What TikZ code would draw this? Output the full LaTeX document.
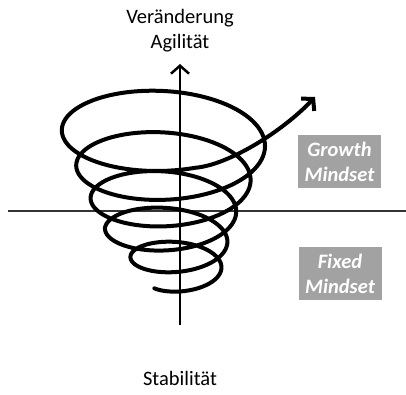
\documentclass[tikz,border=0pt]{standalone}
\usepackage{fontspec}
\setmainfont{Carlito}
\usepackage{xcolor}
\usepackage{tikz}
\usetikzlibrary{arrows.meta}
\definecolor{mindgray}{HTML}{A2A2A2}

\begin{document}
\begin{tikzpicture}[x=1pt,y=-1pt,>={Straight Barb[length=8pt,width=18pt]},
  axis/.style={line width=2.5pt,black},
  coil/.style={line width=4pt,line cap=round,line join=round},
  mind/.style={fill=mindgray,text=white,font=\fontsize{20.5}{25}\selectfont\bfseries\itshape,align=center,minimum width=83pt,minimum height=53pt,inner sep=0pt},
  lbl/.style={font=\fontsize{20.5}{25}\selectfont,align=center},
  declare function={cxf(\t)=167+14*min(1,max(0,(900-\t)/450));
    rxf(\t)=44+0.04*(\t-450);
    cyf(\t)=205.1-0.086*(\t-1170)-0.093*((\t-1170)/100)^2;
    ryf(\t)=33.5+0.019*(\t-1170);}]
\useasboundingbox (0,0) rectangle (406,394);
\node[lbl] (change) at (180,30.5) {Veränderung\\Agilität};
\node[lbl] (stable) at (180,378) {Stabilität};
\node[mind] (growth) at (339.5,161.5) {Growth\\Mindset};
\node[mind] (fixed) at (340,273.5) {Fixed\\Mindset};
\coordinate (west) at (8,211);
\coordinate (east) at (406,211);
\coordinate (foot) at (180,325);
\coordinate (head) at (180,64);
\draw[line width=2pt,black!80](west)--(east);
\draw[axis,->](foot)--(head);
% spiral widening upwards, leaving to the right
\draw[coil,->] plot[domain=220:2085,samples=500,variable=\t]
  ({cxf(\t)+rxf(\t)*cos(\t)},{cyf(\t)-ryf(\t)*sin(\t)})
  .. controls (228,165) and (282,132) .. (315,97);
\end{tikzpicture}
\end{document}
